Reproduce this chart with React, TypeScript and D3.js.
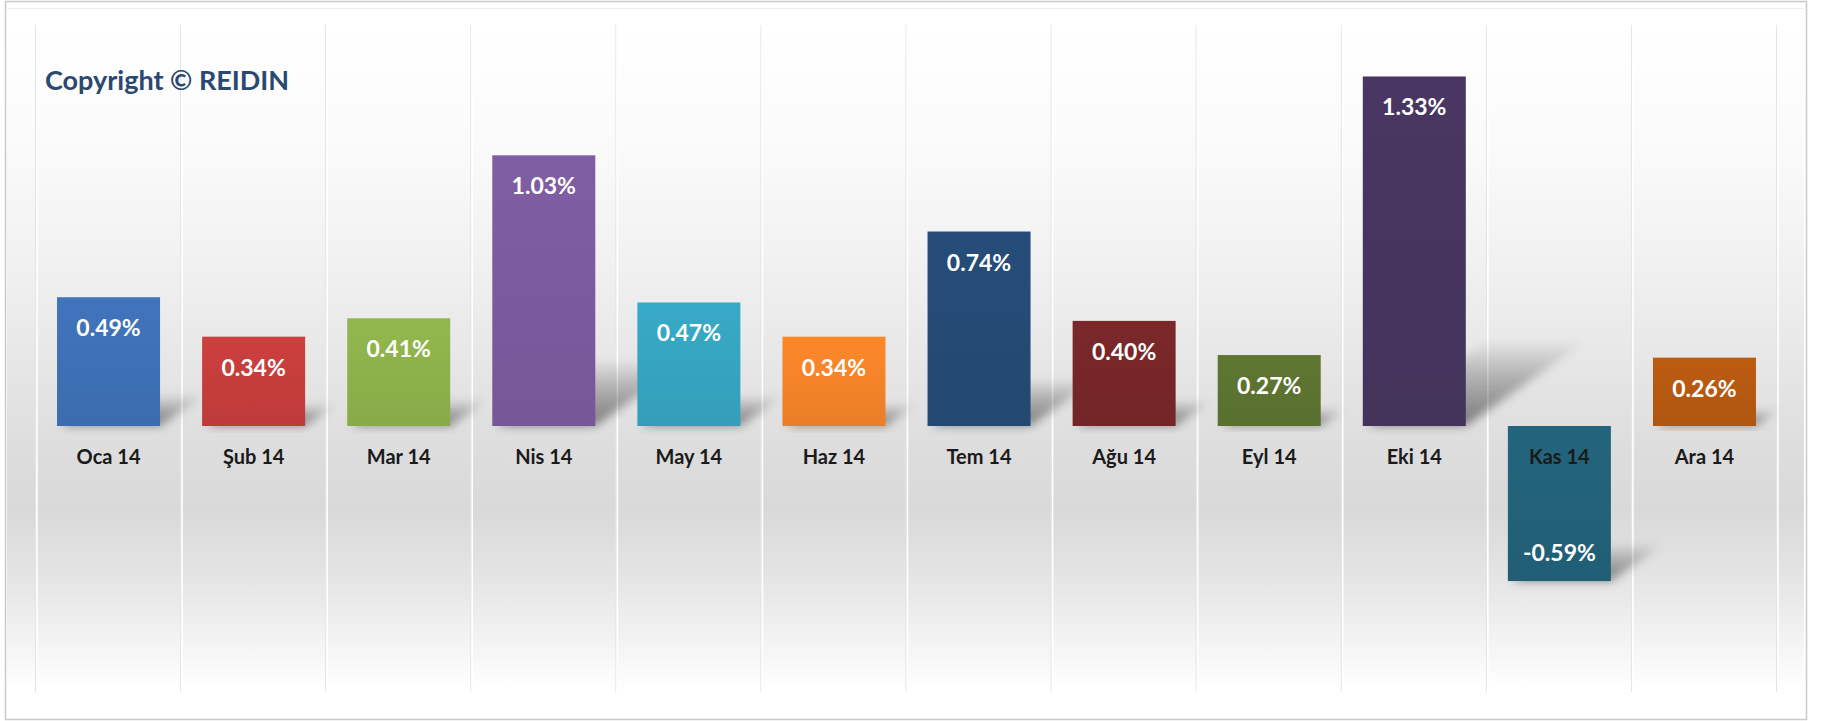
import React from "react";
import * as d3 from "d3";

const categories = ["Oca 14", "Şub 14", "Mar 14", "Nis 14", "May 14", "Haz 14", "Tem 14", "Ağu 14", "Eyl 14", "Eki 14", "Kas 14", "Ara 14"];
const values = [0.49, 0.34, 0.41, 1.03, 0.47, 0.34, 0.74, 0.40, 0.27, 1.33, -0.59, 0.26];
const valueLabels = ["0.49%", "0.34%", "0.41%", "1.03%", "0.47%", "0.34%", "0.74%", "0.40%", "0.27%", "1.33%", "-0.59%", "0.26%"];
const barColors = ["#3d6fb4", "#c33d3b", "#8cb04a", "#7a5a9c", "#35a3bf", "#f28228", "#244a74", "#762628", "#5b7230", "#46345e", "#226178", "#b45810"];
const title = "Copyright © REIDIN";

const W = 1822;
const H = 721;

export default function App() {
  const x = d3.scaleBand<string>().domain(categories).range([36, 1777]).paddingInner(0.29).paddingOuter(0.145);
  const y = d3.scaleLinear().domain([-1, 1.5]).range([688.8, 31.8]);
  const y0 = y(0);
  const gridXs = categories.map((c) => (x(c) as number) - x.step() * 0.145).concat([(x(categories[11]) as number) + x.bandwidth() + x.step() * 0.145]);
  const font = "Lato, 'Open Sans', sans-serif";

  return (
    <svg width={W} height={H} style={{ position: "absolute", left: 0, top: 0 }} xmlns="http://www.w3.org/2000/svg">
      <defs>
        <linearGradient id="bg" gradientUnits="userSpaceOnUse" x1="0" y1="8" x2="0" y2="700">
          <stop offset={0 / 692} stopColor="#ffffff" />
          <stop offset={(30 - 8) / 692} stopColor="#ffffff" />
          <stop offset={(150 - 8) / 692} stopColor="#fafafa" />
          <stop offset={(250 - 8) / 692} stopColor="#f2f2f2" />
          <stop offset={(350 - 8) / 692} stopColor="#e8e8e8" />
          <stop offset={(450 - 8) / 692} stopColor="#dddddd" />
          <stop offset={(510 - 8) / 692} stopColor="#d9d9d9" />
          <stop offset={(580 - 8) / 692} stopColor="#e5e5e5" />
          <stop offset={(640 - 8) / 692} stopColor="#f3f3f3" />
          <stop offset={(690 - 8) / 692} stopColor="#ffffff" />
          <stop offset={1} stopColor="#ffffff" />
        </linearGradient>
        <linearGradient id="shadowGrad" x1="0" y1="1" x2="0" y2="0">
          <stop offset="0" stopColor="#000" stopOpacity="0.45" />
          <stop offset="0.6" stopColor="#000" stopOpacity="0.22" />
          <stop offset="1" stopColor="#000" stopOpacity="0.02" />
        </linearGradient>
        <filter id="blur" x="-30%" y="-30%" width="160%" height="160%">
          <feGaussianBlur stdDeviation="5" />
        </filter>
        {barColors.map((c, i) => (
          <linearGradient key={i} id={`bar${i}`} x1="0" y1="0" x2="0" y2="1">
            <stop offset="0" stopColor={d3.color(c)!.brighter(0.12).formatHex()} />
            <stop offset="1" stopColor={d3.color(c)!.darker(0.08).formatHex()} />
          </linearGradient>
        ))}
      </defs>
      <rect x={5.5} y={1.5} width={1801} height={718} fill="#ffffff" stroke="#c9c9c9" strokeWidth={1.5} />
      <rect x={7} y={8} width={1797} height={692} fill="url(#bg)" />
      <line x1={7} x2={1804} y1={8.5} y2={8.5} stroke="#ececec" strokeWidth={1} />
      {gridXs.map((gx, i) => (
        <g key={i}>
          <line x1={gx - 0.5} x2={gx - 0.5} y1={25} y2={692} stroke="#e4e4e4" strokeWidth={1} />
          <line x1={gx + 1} x2={gx + 1} y1={25} y2={692} stroke="#ffffff" strokeWidth={1.6} />
        </g>
      ))}
      <text x={45} y={90} fontFamily={font} fontWeight="bold" fontSize={27} fill="#2a4870">{title}</text>
      {values.map((v, i) => {
        const bx = x(categories[i]) as number;
        const bw = x.bandwidth();
        const base = v >= 0 ? y0 : y(v);
        const h = Math.abs(y(v) - y0);
        const dx = h * 0.34;
        const dy = h * 0.24;
        const pts = [
          [bx + 4, base],
          [bx + bw, base],
          [bx + bw + dx, base - dy],
          [bx + 4 + dx, base - dy],
        ];
        return (
          <polygon key={i} points={pts.map((p) => p.join(",")).join(" ")} fill="url(#shadowGrad)" filter="url(#blur)" />
        );
      })}
      {values.map((v, i) => {
        const bx = x(categories[i]) as number;
        const top = Math.min(y(v), y0);
        const h = Math.abs(y(v) - y0);
        return <rect key={i} x={bx} y={top} width={x.bandwidth()} height={h} fill={`url(#bar${i})`} />;
      })}
      {categories.map((c, i) => (
        <text key={i} x={(x(c) as number) + x.bandwidth() / 2} y={464} textAnchor="middle" fontFamily={font} fontWeight="bold" fontSize={20} fill="#1a1a1a">
          {c}
        </text>
      ))}
      {values.map((v, i) => {
        const cx = (x(categories[i]) as number) + x.bandwidth() / 2;
        const ly = v >= 0 ? y(v) + 39 : y(v) - 20;
        return (
          <text key={i} x={cx} y={ly} textAnchor="middle" fontFamily={font} fontWeight="bold" fontSize={23} fill="#ffffff">
            {valueLabels[i]}
          </text>
        );
      })}
    </svg>
  );
}
